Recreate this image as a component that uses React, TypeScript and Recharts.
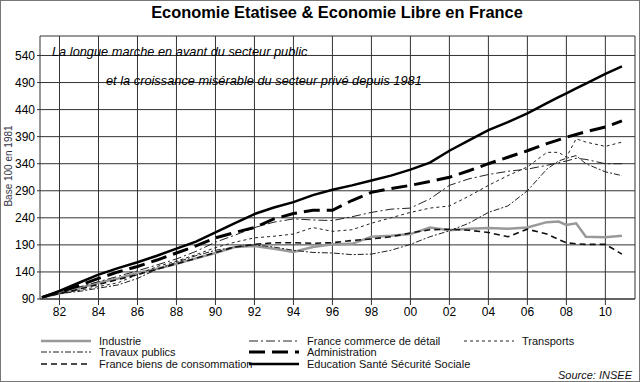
import { LineChart, Line, XAxis, YAxis, CartesianGrid } from 'recharts'

const YEARS = [1981.1, 1982, 1983, 1984, 1985, 1986, 1987, 1988, 1989, 1990, 1991, 1992, 1993, 1994, 1995, 1996, 1997, 1998, 1999, 2000, 2001, 2002, 2003, 2004, 2005, 2006, 2007, 2007.6, 2008, 2008.5, 2009, 2010, 2010.85]

const INDUSTRIE = [93, 100, 110, 120, 128, 138, 146, 155, 165, 175, 186, 188, 183, 177, 186, 191, 192, 205, 207, 210, 222, 217, 220, 221, 220, 222, 232, 233, 227, 230, 205, 204, 207]
const COMMERCE = [93, 103, 112, 122, 132, 142, 153, 164, 178, 195, 208, 222, 232, 238, 236, 235, 242, 250, 256, 258, 275, 300, 312, 320, 326, 330, 337, 342, 345, 350, 348, 340, 340]
const TRANSPORTS = [93, 100, 106, 113, 120, 135, 150, 160, 172, 185, 195, 203, 206, 210, 222, 215, 218, 230, 240, 250, 258, 262, 280, 300, 318, 334, 361, 361, 352, 386, 380, 372, 380]
const TRAVAUX = [93, 100, 104, 110, 116, 128, 145, 158, 170, 180, 186, 190, 186, 180, 176, 175, 172, 173, 180, 191, 205, 216, 230, 250, 262, 290, 330, 345, 350, 355, 340, 325, 318]
const ADMINISTRATION = [93, 103, 115, 128, 140, 150, 162, 175, 188, 203, 213, 222, 238, 248, 254, 254, 272, 287, 294, 300, 307, 315, 327, 340, 352, 364, 377, 384, 389, 394, 399, 408, 419]
const BIENS = [93, 100, 108, 117, 126, 135, 145, 155, 165, 176, 186, 191, 194, 194, 193, 194, 198, 201, 205, 212, 218, 219, 217, 213, 205, 219, 210, 200, 194, 192, 191, 191, 173]
const EDUCATION = [93, 105, 120, 135, 147, 158, 170, 183, 196, 213, 230, 247, 259, 269, 282, 292, 300, 309, 318, 329, 342, 364, 383, 402, 417, 433, 452, 463, 470, 479, 488, 506, 520]

const X_TICKS = [1982, 1984, 1986, 1988, 1990, 1992, 1994, 1996, 1998, 2000, 2002, 2004, 2006, 2008, 2010]
const Y_TICKS = [90, 140, 190, 240, 290, 340, 390, 440, 490, 540]

const data = YEARS.map((year, i) => ({
  year,
  industrie: INDUSTRIE[i],
  commerce: COMMERCE[i],
  transports: TRANSPORTS[i],
  travaux: TRAVAUX[i],
  administration: ADMINISTRATION[i],
  biens: BIENS[i],
  education: EDUCATION[i],
}))

const SERIES = [
  { key: 'industrie', name: 'Industrie', stroke: '#999', width: 2.5, dash: undefined },
  { key: 'commerce', name: 'France commerce de détail', stroke: '#222', width: 1, dash: '9 3 2 3' },
  { key: 'transports', name: 'Transports', stroke: '#222', width: 1, dash: '3 3' },
  { key: 'travaux', name: 'Travaux publics', stroke: '#222', width: 1, dash: '6 2 2 2' },
  { key: 'administration', name: 'Administration', stroke: '#000', width: 3, dash: '16 7' },
  { key: 'biens', name: 'France biens de consommation', stroke: '#111', width: 1.6, dash: '6 4' },
  { key: 'education', name: 'Education Santé Sécurité Sociale', stroke: '#000', width: 2.5, dash: undefined },
]

// legend grid: [col, row] for each series
const LEGEND_POS: Record<string, [number, number]> = {
  industrie: [0, 0], commerce: [1, 0], transports: [2, 0],
  travaux: [0, 1], administration: [1, 1],
  biens: [0, 2], education: [1, 2],
}
const COL_X = [41, 249, 464]
const ROW_Y = [341, 352, 364]

const font = '"Liberation Sans", Arial, sans-serif'

export default function App() {
  return (
    <div style={{ position: 'absolute', left: 0, top: 0, width: 640, height: 382, background: '#fff', fontFamily: font }}>
      <div style={{ position: 'absolute', inset: 0, border: '1px solid #777', boxSizing: 'border-box' }} />
      <div style={{ position: 'absolute', left: 0, width: 640, top: 3, textAlign: 'center', fontWeight: 'bold', fontSize: 16.4, paddingLeft: 34, boxSizing: 'border-box' }}>
        Economie Etatisee &amp; Economie Libre en France
      </div>
      <LineChart width={640} height={382} data={data} margin={{ top: 36, right: 5, left: 0, bottom: 50 }} style={{ position: 'absolute', left: 0, top: 0 }}>
        <CartesianGrid stroke="#333" strokeWidth={1} />
        <XAxis
          dataKey="year"
          type="number"
          domain={[1981, 2011.52]}
          ticks={X_TICKS}
          tickFormatter={(v: number) => String(v % 100).padStart(2, '0')}
          height={33}
          stroke="#333"
          tickSize={6}
          tick={{ fontSize: 12, fill: '#000', fontFamily: font }}
        />
        <YAxis
          type="number"
          domain={[90, 576]}
          ticks={Y_TICKS}
          width={40}
          axisLine={false}
          tickSize={3}
          stroke="#333"
          tick={{ fontSize: 12, fill: '#000', fontFamily: font }}
        />
        {SERIES.map(s => (
          <Line key={s.key} type="linear" dataKey={s.key} name={s.name} stroke={s.stroke} strokeWidth={s.width}
            strokeDasharray={s.dash} dot={false} isAnimationActive={false} />
        ))}
      </LineChart>
      <div style={{ position: 'absolute', left: 52, top: 44, fontStyle: 'italic', fontSize: 12.8 }}>La longue marche en avant du secteur public</div>
      <div style={{ position: 'absolute', left: 106, top: 73, fontStyle: 'italic', fontSize: 12.8 }}>et la croissance misérable du secteur privé depuis 1981</div>
      <svg width={640} height={382} style={{ position: 'absolute', left: 0, top: 0, pointerEvents: 'none' }}>
        <text x={0} y={0} transform="translate(12,166) rotate(-90)" textAnchor="middle" fontSize={10} fontFamily={font} fill="#334">Base 100 en 1981</text>
        {SERIES.map(s => {
          const [c, r] = LEGEND_POS[s.key]
          const x = COL_X[c]
          const y = ROW_Y[r]
          return (
            <g key={s.key}>
              <line x1={x} x2={x + 50} y1={y} y2={y} stroke={s.stroke} strokeWidth={s.width} strokeDasharray={s.dash} />
              <text x={x + 58} y={y + 4} fontSize={11} fontFamily={font} fill="#111">{s.name}</text>
            </g>
          )
        })}
        <text x={632} y={379} textAnchor="end" fontSize={11} fontStyle="italic" fontFamily={font} fill="#111">Source: INSEE</text>
      </svg>
    </div>
  )
}
